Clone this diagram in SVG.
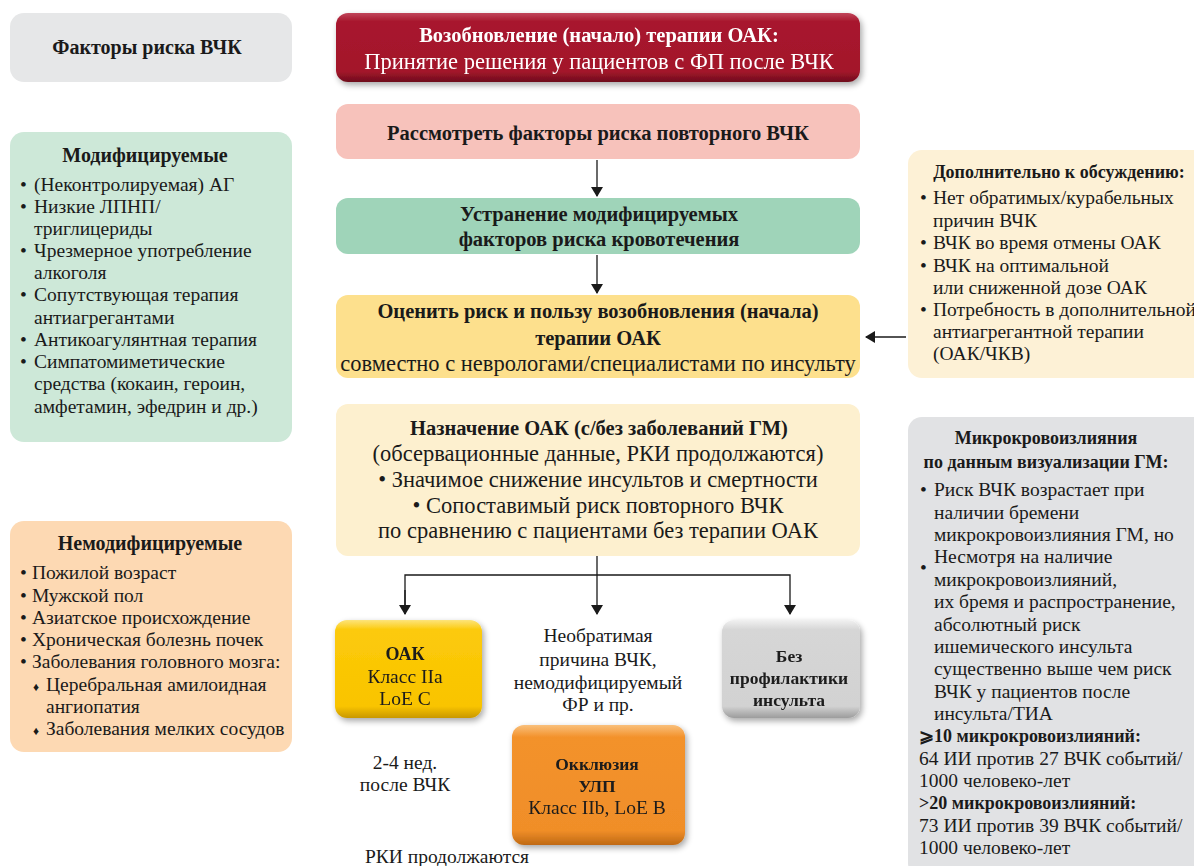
<svg xmlns="http://www.w3.org/2000/svg" width="1194" height="866" viewBox="0 0 1194 866">
  <defs>
    <style>
      text { font-family: "Liberation Serif", "Times New Roman", serif; fill: #1a1a1a; }
      .t { font-size: 20px; font-weight: bold; }
      .t2 { font-size: 18px; font-weight: bold; }
      .tb { font-size: 17.5px; font-weight: bold; }
      .b { font-size: 19.5px; }
      .s { font-size: 19.5px; }
      .c { text-anchor: middle; }
      .m { font-size: 22.5px; }
      .mb { font-size: 20.5px; font-weight: bold; }
      .w { fill: #ffffff; }
      .line { stroke: #1a1a1a; stroke-width: 1.3; fill: none; }
    </style>
    <marker id="arr" viewBox="0 0 10 12" refX="9" refY="6" markerWidth="10" markerHeight="12" markerUnits="userSpaceOnUse" orient="auto">
      <path d="M0,0 L10,6 L0,12 z" fill="#1a1a1a"/>
    </marker>
    <linearGradient id="gRed" x1="0" y1="0" x2="0" y2="1">
      <stop offset="0" stop-color="#c0465a"/>
      <stop offset="0.12" stop-color="#a8172e"/>
      <stop offset="0.85" stop-color="#a3152b"/>
      <stop offset="1" stop-color="#6e0d1c"/>
    </linearGradient>
    <linearGradient id="gGold" x1="0" y1="0" x2="0" y2="1">
      <stop offset="0" stop-color="#fde47a"/>
      <stop offset="0.1" stop-color="#fcca0a"/>
      <stop offset="0.88" stop-color="#f9c400"/>
      <stop offset="1" stop-color="#c99800"/>
    </linearGradient>
    <linearGradient id="gOrange" x1="0" y1="0" x2="0" y2="1">
      <stop offset="0" stop-color="#f9c07c"/>
      <stop offset="0.1" stop-color="#f3922c"/>
      <stop offset="0.88" stop-color="#f08e28"/>
      <stop offset="1" stop-color="#bf6a14"/>
    </linearGradient>
    <linearGradient id="gGray" x1="0" y1="0" x2="0" y2="1">
      <stop offset="0" stop-color="#f1f1f1"/>
      <stop offset="0.1" stop-color="#d6d6d6"/>
      <stop offset="0.88" stop-color="#d2d2d2"/>
      <stop offset="1" stop-color="#9c9c9c"/>
    </linearGradient>
    <filter id="sh" x="-10%" y="-10%" width="125%" height="130%">
      <feGaussianBlur in="SourceAlpha" stdDeviation="3"/>
      <feOffset dx="2" dy="3" result="o"/>
      <feComponentTransfer><feFuncA type="linear" slope="0.35"/></feComponentTransfer>
      <feMerge><feMergeNode/><feMergeNode in="SourceGraphic"/></feMerge>
    </filter>
  </defs>

  <rect width="1194" height="866" fill="#ffffff"/>

  <!-- left column: risk factors -->
  <g id="risk-title">
    <rect x="10" y="13" width="282" height="69" rx="14" fill="#e6e7e8"/>
    <text class="t c" x="147" y="54">Факторы риска ВЧК</text>
  </g>

  <g id="modifiable">
    <rect x="10" y="132" width="282" height="310" rx="14" fill="#cde8d8"/>
    <text class="t c" x="145" y="162">Модифицируемые</text>
    <g class="b">
      <text x="20" y="191">•</text><text x="34" y="191">(Неконтролируемая) АГ</text>
      <text x="20" y="213">•</text><text x="34" y="213">Низкие ЛПНП/</text>
      <text x="34" y="235">триглицериды</text>
      <text x="20" y="257">•</text><text x="34" y="257">Чрезмерное употребление</text>
      <text x="34" y="279">алкоголя</text>
      <text x="20" y="301">•</text><text x="34" y="301">Сопутствующая терапия</text>
      <text x="34" y="324">антиагрегантами</text>
      <text x="20" y="346">•</text><text x="34" y="346">Антикоагулянтная терапия</text>
      <text x="20" y="368">•</text><text x="34" y="368">Симпатомиметические</text>
      <text x="34" y="390">средства (кокаин, героин,</text>
      <text x="34" y="413">амфетамин, эфедрин и др.)</text>
    </g>
  </g>

  <g id="nonmodifiable">
    <rect x="10" y="521" width="282" height="231" rx="14" fill="#fdd9b3"/>
    <text class="t c" x="150" y="550">Немодифицируемые</text>
    <g class="b">
      <text x="20" y="579">•</text><text x="32" y="579">Пожилой возраст</text>
      <text x="20" y="602">•</text><text x="32" y="602">Мужской пол</text>
      <text x="20" y="624">•</text><text x="32" y="624">Азиатское происхождение</text>
      <text x="20" y="646">•</text><text x="32" y="646">Хроническая болезнь почек</text>
      <text x="20" y="668">•</text><text x="32" y="668">Заболевания головного мозга:</text>
      <text x="33" y="691" style="font-size:12px">♦</text><text x="46" y="691">Церебральная амилоидная</text>
      <text x="46" y="713">ангиопатия</text>
      <text x="33" y="735" style="font-size:12px">♦</text><text x="46" y="735">Заболевания мелких сосудов</text>
    </g>
  </g>

  <!-- central flow -->
  <g id="start" filter="url(#sh)">
    <rect x="336" y="13" width="524" height="69" rx="12" fill="url(#gRed)"/>
    <text class="mb c w" x="599" y="42">Возобновление (начало) терапии ОАК:</text>
    <text class="m c w" x="599" y="69">Принятие решения у пациентов с ФП после ВЧК</text>
  </g>

  <g id="consider">
    <rect x="336" y="104" width="524" height="55" rx="12" fill="#f7c2bb"/>
    <text class="mb c" x="598" y="140">Рассмотреть факторы риска повторного ВЧК</text>
  </g>

  <g id="eliminate">
    <rect x="336" y="198" width="524" height="56" rx="12" fill="#9fd4b9"/>
    <text class="mb c" x="599" y="221">Устранение модифицируемых</text>
    <text class="mb c" x="599" y="246">факторов риска кровотечения</text>
  </g>

  <g id="assess">
    <rect x="336" y="295" width="524" height="83" rx="12" fill="#fde08d"/>
    <text class="mb c" x="598" y="318">Оценить риск и пользу возобновления (начала)</text>
    <text class="mb c" x="598" y="345">терапии ОАК</text>
    <text class="m c" x="598" y="371">совместно с неврологами/специалистами по инсульту</text>
  </g>

  <g id="prescribe">
    <rect x="336" y="404" width="524" height="152" rx="12" fill="#fdf0cf"/>
    <text class="mb c" x="599" y="435">Назначение ОАК (с/без заболеваний ГМ)</text>
    <text class="m c" x="598" y="461">(обсервационные данные, РКИ продолжаются)</text>
    <text class="m c" x="598" y="487">•  Значимое снижение инсультов и смертности</text>
    <text class="m c" x="598" y="513">•  Сопоставимый риск повторного ВЧК</text>
    <text class="m c" x="598" y="538">по сравнению с пациентами без терапии ОАК</text>
  </g>

  <g id="oac" filter="url(#sh)">
    <rect x="335" y="620" width="147" height="98" rx="12" fill="url(#gGold)"/>
    <text class="t2 c" x="405" y="660">ОАК</text>
    <text class="s c" x="405" y="683">Класс IIa</text>
    <text class="s c" x="405" y="705">LoE C</text>
  </g>

  <g id="oac-timing">
    <text class="s c" x="405" y="769">2-4 нед.</text>
    <text class="s c" x="405" y="791">после ВЧК</text>
  </g>

  <g id="irreversible">
    <text class="s c" x="598" y="642">Необратимая</text>
    <text class="s c" x="598" y="666">причина ВЧК,</text>
    <text class="s c" x="598" y="689">немодифицируемый</text>
    <text class="s c" x="598" y="711">ФР и пр.</text>
  </g>

  <g id="no-prevention" filter="url(#sh)">
    <rect x="722" y="620" width="138" height="98" rx="12" fill="url(#gGray)"/>
    <text class="tb c" x="789" y="662">Без</text>
    <text class="tb c" x="789" y="684">профилактики</text>
    <text class="tb c" x="789" y="706">инсульта</text>
  </g>

  <g id="laao" filter="url(#sh)">
    <rect x="512" y="725" width="173" height="120" rx="12" fill="url(#gOrange)"/>
    <text class="tb c" x="597" y="770">Окклюзия</text>
    <text class="tb c" x="597" y="792">УЛП</text>
    <text class="s c" x="597" y="814">Класс IIb, LoE B</text>
  </g>

  <g id="laao-note">
    <text class="s c" x="447" y="863">РКИ продолжаются</text>
  </g>

  <!-- right column -->
  <g id="discuss">
    <rect x="908" y="150" width="300" height="228" rx="14" fill="#fdf1d6"/>
    <text class="t2 c" x="1059" y="178">Дополнительно к обсуждению:</text>
    <g class="b">
      <text x="920" y="204">•</text><text x="933" y="204">Нет обратимых/курабельных</text>
      <text x="933" y="227">причин ВЧК</text>
      <text x="920" y="249">•</text><text x="933" y="249">ВЧК во время отмены ОАК</text>
      <text x="920" y="272">•</text><text x="933" y="272">ВЧК на оптимальной</text>
      <text x="933" y="294">или сниженной дозе ОАК</text>
      <text x="920" y="316">•</text><text x="933" y="316">Потребность в дополнительной</text>
      <text x="933" y="338">антиагрегантной терапии</text>
      <text x="933" y="360">(ОАК/ЧКВ)</text>
    </g>
  </g>

  <g id="microbleeds">
    <rect x="908" y="417" width="300" height="460" rx="14" fill="#e1e2e4"/>
    <text class="t2 c" x="1046" y="444">Микрокровоизлияния</text>
    <text class="t2 c" x="1046" y="468">по данным визуализации ГМ:</text>
    <g class="b">
      <text x="920" y="496">•</text><text x="934" y="496">Риск ВЧК возрастает при</text>
      <text x="934" y="519">наличии бремени</text>
      <text x="934" y="541">микрокровоизлияния ГМ, но</text>
      <text x="934" y="563">Несмотря на наличие</text>
      <text x="920" y="574">•</text><text x="934" y="586">микрокровоизлияний,</text>
      <text x="934" y="608">их бремя и распространение,</text>
      <text x="934" y="631">абсолютный риск</text>
      <text x="934" y="653">ишемического инсульта</text>
      <text x="934" y="675">существенно выше чем риск</text>
      <text x="934" y="698">ВЧК у пациентов после</text>
      <text x="934" y="720">инсульта/ТИА</text>
      <text x="919" y="742" style="font-weight:bold;font-size:18px">⩾10 микрокровоизлияний:</text>
      <text x="919" y="765">64 ИИ против 27 ВЧК событий/</text>
      <text x="919" y="787">1000 человеко-лет</text>
      <text x="919" y="809" style="font-weight:bold;font-size:18px">&gt;20 микрокровоизлияний:</text>
      <text x="919" y="832">73 ИИ против 39 ВЧК событий/</text>
      <text x="919" y="854">1000 человеко-лет</text>
    </g>
  </g>

  <!-- connectors -->
  <g id="connectors">
    <line class="line" x1="597" y1="160" x2="597" y2="196" marker-end="url(#arr)"/>
    <line class="line" x1="597" y1="255" x2="597" y2="293" marker-end="url(#arr)"/>
    <line class="line" x1="906" y1="337" x2="866" y2="337" marker-end="url(#arr)"/>
    <line class="line" x1="597" y1="556" x2="597" y2="614" marker-end="url(#arr)"/>
    <polyline class="line" points="405,614 405,575 790,575 790,614" marker-end="url(#arr)"/>
    <line class="line" x1="405" y1="590" x2="405" y2="614" marker-end="url(#arr)"/>
  </g>
</svg>
